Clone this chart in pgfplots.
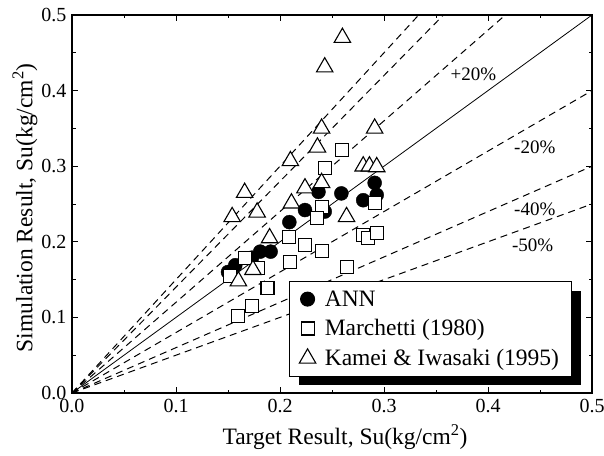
\documentclass[border=0pt]{standalone}
\usepackage{fontspec}
\setmainfont{Liberation Serif}
\usepackage{pgfplots}
\pgfplotsset{compat=1.18}
\usetikzlibrary{shadows}
\begin{document}
\begin{tikzpicture}
\begin{axis}[
  scale only axis,
  width=520pt, height=378pt,
  xmin=0, xmax=0.5, ymin=0, ymax=0.5,
  xtick={0,0.1,...,0.5}, ytick={0,0.1,...,0.5},
  minor tick num=1,
  tick align=inside,
  major tick length=6pt, minor tick length=3.5pt,
  axis line style={line width=1.8pt},
  every tick/.style={line width=1pt, black},
  /pgf/number format/assume math mode=true,
  /pgf/number format/.cd, fixed, fixed zerofill, precision=1, /pgfplots/.cd,
  tick label style={font=\fontsize{20}{20}\selectfont},
  xticklabel style={yshift=-3pt},
  yticklabel style={xshift=-2pt},
  xlabel={Target Result, Su(kg/cm\textsuperscript{2})},
  ylabel={Simulation Result, Su(kg/cm\textsuperscript{2})},
  label style={font=\fontsize{23.5}{23.5}\selectfont},
  xlabel style={at={(axis description cs:0.525,-0.116)}, anchor=center},
  ylabel style={at={(axis description cs:-0.0905,0.49)}, anchor=center},
  legend style={at={(0.417,0.296)}, anchor=north west, draw=black, line width=1pt,
    fill=white, font=\fontsize{23.5}{23.5}\selectfont,
    drop shadow={shadow xshift=10pt, shadow yshift=-9pt, fill=black, opacity=1},
    row sep=8pt, inner xsep=10pt, inner ysep=7pt,
    /tikz/every odd column/.append style={column sep=7pt}},
  legend cell align=left,
  clip=false,
]
% reference lines
\addplot[black, line width=0.8pt, forget plot] coordinates {(0,0) (0.5,0.5)};
\addplot[black, line width=1pt, dash pattern=on 7pt off 5pt, forget plot] coordinates {(0,0) (0.33333,0.5)};
\addplot[black, line width=1pt, dash pattern=on 7pt off 5pt, forget plot] coordinates {(0,0) (0.35714,0.5)};
\addplot[black, line width=1pt, dash pattern=on 7pt off 5pt, forget plot] coordinates {(0,0) (0.41667,0.5)};
\addplot[black, line width=1pt, dash pattern=on 7pt off 5pt, forget plot] coordinates {(0,0) (0.5,0.4)};
\addplot[black, line width=1pt, dash pattern=on 7pt off 5pt, forget plot] coordinates {(0,0) (0.5,0.3)};
\addplot[black, line width=1pt, dash pattern=on 7pt off 5pt, forget plot] coordinates {(0,0) (0.5,0.25)};
% ANN
\addplot[only marks, mark=*, mark size=7pt, mark options={fill=black, draw=black}] coordinates {
(0.150,0.160) (0.157,0.169) (0.173,0.179) (0.181,0.187) (0.191,0.187)
(0.209,0.226) (0.224,0.242) (0.237,0.266) (0.243,0.240) (0.259,0.264)
(0.280,0.255) (0.291,0.278) (0.293,0.262)
};
\addlegendentry{ANN}
% Marchetti
\addplot[only marks, mark=square*, mark size=6.5pt, mark options={fill=white, draw=black, line width=1.1pt}] coordinates {
(0.260,0.321) (0.243,0.298) (0.240,0.246) (0.236,0.231) (0.291,0.251)
(0.209,0.206) (0.224,0.196) (0.240,0.188) (0.166,0.179) (0.210,0.173)
(0.179,0.165) (0.152,0.155) (0.188,0.139) (0.173,0.115) (0.160,0.102)
(0.280,0.209) (0.285,0.205) (0.293,0.212) (0.264,0.167)
};
\addlegendentry{Marchetti (1980)}
% Kamei & Iwasaki
\addplot[only marks, mark=triangle*, mark size=9.5pt, mark options={fill=white, draw=black, line width=1.1pt}] coordinates {
(0.260,0.470) (0.243,0.431) (0.240,0.350) (0.291,0.350) (0.236,0.325)
(0.210,0.307) (0.280,0.300) (0.286,0.300) (0.293,0.299) (0.166,0.265)
(0.224,0.271) (0.240,0.278) (0.154,0.233) (0.178,0.239) (0.211,0.251)
(0.264,0.233) (0.190,0.205) (0.174,0.163) (0.160,0.148)
};
\addlegendentry{Kamei \& Iwasaki (1995)}
% line labels
\node[font=\fontsize{19}{19}\selectfont] at (axis cs:0.386,0.421) {+20\%};
\node[font=\fontsize{19}{19}\selectfont] at (axis cs:0.445,0.325) {-20\%};
\node[font=\fontsize{19}{19}\selectfont] at (axis cs:0.445,0.243) {-40\%};
\node[font=\fontsize{19}{19}\selectfont] at (axis cs:0.443,0.196) {-50\%};
\end{axis}
\pgfresetboundingbox
\path[use as bounding box] (current axis.south west) ++(-72pt,-62pt) rectangle ([shift={(12pt,15pt)}]current axis.north east);
\end{tikzpicture}
\end{document}
